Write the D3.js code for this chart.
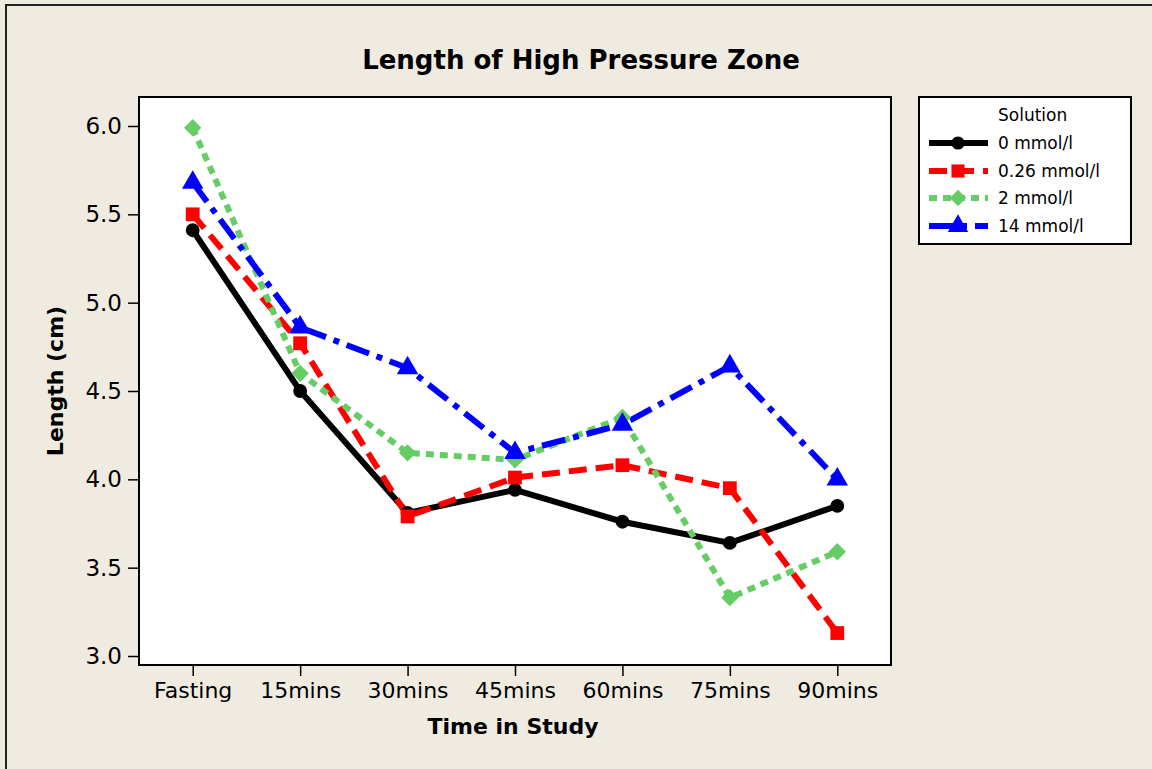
<!DOCTYPE html>
<html><head><meta charset="utf-8">
<script src="https://cdn.jsdelivr.net/npm/d3@7"></script>
<style>
html,body{margin:0;padding:0;background:#efebe1;}
svg{display:block;}
text{font-family:"DejaVu Sans",Verdana,sans-serif;fill:#000;}
</style></head>
<body>
<svg id="chart" width="1152" height="769"></svg>
<script>
const categories = ["Fasting","15mins","30mins","45mins","60mins","75mins","90mins"];
const seriesNames = ["0 mmol/l","0.26 mmol/l","2 mmol/l","14 mmol/l"];
const s0 = [5.41,4.50,3.81,3.94,3.76,3.64,3.85];
const s026 = [5.50,4.77,3.79,4.01,4.08,3.95,3.13];
const s2 = [5.99,4.60,4.15,4.11,4.35,3.33,3.59];
const s14 = [5.68,4.86,4.63,4.15,4.31,4.64,4.00];
const yTicks = [3.0,3.5,4.0,4.5,5.0,5.5,6.0];
const colors = ["#000000","#ff0000","#66cc66","#0000ff"];
const dashes = [null,"18,9","8,6","24,8,6,8"];
const markers = [d3.symbolCircle,d3.symbolSquare,d3.symbolSquare,d3.symbolTriangle];
const rotations = [0,0,45,0];
const markerSizes = [150,190,150,200];
const seriesData = [s0,s026,s2,s14];

const svg = d3.select("#chart");
svg.append("rect").attr("x",6).attr("y",5).attr("width",1160).attr("height",780)
  .attr("fill","#efebe1").attr("stroke","#222").attr("stroke-width",2);

const plot = {l:139,t:97,r:891,b:665};
svg.append("rect").attr("x",plot.l).attr("y",plot.t).attr("width",plot.r-plot.l).attr("height",plot.b-plot.t)
  .attr("fill","#fff").attr("stroke","#000").attr("stroke-width",2);

const x = d3.scalePoint().domain(categories).range([plot.l,plot.r]).padding(0.5);
const y = d3.scaleLinear().domain([3,6]).range([656,126]);

const yAxis = svg.append("g").attr("transform",`translate(${plot.l-1},0)`)
  .call(d3.axisLeft(y).tickValues(yTicks).tickFormat(d3.format(".1f")).tickSize(10).tickPadding(6));
yAxis.select(".domain").remove();
yAxis.selectAll("line").attr("stroke","#000").attr("stroke-width",1.5);
yAxis.selectAll("text").attr("font-size",23).attr("fill","#000").style("font-family","DejaVu Sans");

const xAxis = svg.append("g").attr("transform",`translate(0,${plot.b+1})`)
  .call(d3.axisBottom(x).tickSize(10).tickPadding(6));
xAxis.select(".domain").remove();
xAxis.selectAll("line").attr("stroke","#000").attr("stroke-width",1.5);
xAxis.selectAll("text").attr("font-size",22).attr("fill","#000").style("font-family","DejaVu Sans");

svg.append("text").attr("x",581).attr("y",69).attr("text-anchor","middle")
  .attr("font-size",26).attr("font-weight","bold").text("Length of High Pressure Zone");
svg.append("text").attr("x",513).attr("y",734).attr("text-anchor","middle")
  .attr("font-size",22).attr("font-weight","bold").text("Time in Study");
svg.append("text").attr("transform","translate(63,381) rotate(-90)").attr("text-anchor","middle")
  .attr("font-size",22).attr("font-weight","bold").text("Length (cm)");

const line = d3.line().x((d,i)=>x(categories[i])).y(d=>y(d));
const g = svg.append("g");
seriesData.forEach((vals,k)=>{
  g.append("path").datum(vals).attr("d",line).attr("fill","none")
    .attr("stroke",colors[k]).attr("stroke-width",6)
    .attr("stroke-dasharray",dashes[k]).attr("stroke-linejoin","miter");
});
seriesData.forEach((vals,k)=>{
  g.selectAll(null).data(vals).enter().append("path")
    .attr("transform",(d,i)=>`translate(${x(categories[i])},${y(d)}) rotate(${rotations[k]})`)
    .attr("d",d3.symbol().type(markers[k]).size(markerSizes[k]))
    .attr("fill",colors[k]);
});

const lg = svg.append("g");
lg.append("rect").attr("x",919).attr("y",97).attr("width",212).attr("height",147)
  .attr("fill","#fff").attr("stroke","#000").attr("stroke-width",2);
lg.append("text").attr("x",998).attr("y",121).attr("font-size",17).text("Solution");
const rowY = [143,171,198,226];
seriesNames.forEach((name,k)=>{
  lg.append("line").attr("x1",929).attr("x2",988).attr("y1",rowY[k]).attr("y2",rowY[k])
    .attr("stroke",colors[k]).attr("stroke-width",6).attr("stroke-dasharray",dashes[k]);
  lg.append("path").attr("transform",`translate(958,${rowY[k]}) rotate(${rotations[k]})`)
    .attr("d",d3.symbol().type(markers[k]).size(markerSizes[k]*0.9)).attr("fill",colors[k]);
  lg.append("text").attr("x",998).attr("y",rowY[k]+6).attr("font-size",17).text(name);
});
</script>
</body></html>
